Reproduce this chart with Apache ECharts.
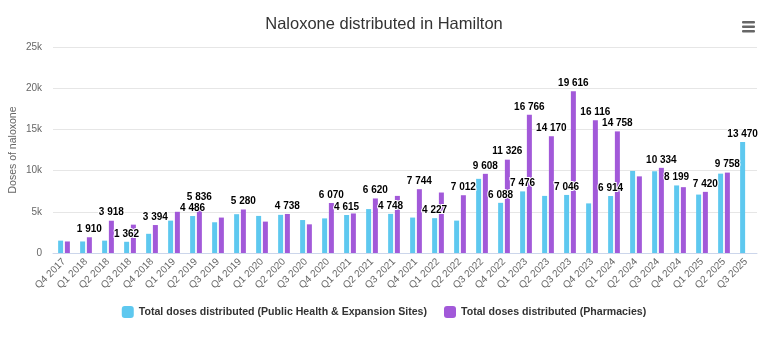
<!DOCTYPE html>
<html>
<head>
<meta charset="utf-8">
<script src="https://cdn.jsdelivr.net/npm/echarts@6/dist/echarts.min.js"></script>
<style>html,body{margin:0;padding:0;background:#fff}#c{width:768px;height:344px}</style>
</head>
<body>
<div id="c"></div>
<script>
var categories = ['Q4 2017','Q1 2018','Q2 2018','Q3 2018','Q4 2018','Q1 2019','Q2 2019','Q3 2019','Q4 2019','Q1 2020','Q2 2020','Q3 2020','Q4 2020','Q1 2021','Q2 2021','Q3 2021','Q4 2021','Q1 2022','Q2 2022','Q3 2022','Q4 2022','Q1 2023','Q2 2023','Q3 2023','Q4 2023','Q1 2024','Q2 2024','Q3 2024','Q4 2024','Q1 2025','Q2 2025','Q3 2025'];
var publicHealth = [1500,1400,1500,1362,2330,3930,4486,3730,4710,4500,4630,4000,4200,4615,5330,4748,4300,4227,3930,9000,6088,7476,6930,7046,6020,6914,9960,9920,8199,7090,9630,13470];
var pharmacies = [1400,1910,3918,3440,3394,5000,5836,4300,5280,3810,4738,3480,6070,4800,6620,6930,7744,7340,7012,9608,11326,16766,14170,19616,16116,14758,9300,10334,7990,7420,9758,null];
// indices whose value label is visible in the reference
var labeledPublicHealth = [3,6,13,15,17,20,21,23,25,28,31];
var labeledPharmacies = [1,2,4,6,8,10,12,14,16,18,19,20,21,22,23,24,25,27,29,30];
var seriesNames = ['Total doses distributed (Public Health & Expansion Sites)','Total doses distributed (Pharmacies)'];
var yTicks = {min:0, max:25000, interval:5000};

var FONT = "'Liberation Sans',Arial,sans-serif";
function fmt(v){ return String(v).replace(/\B(?=(\d{3})+(?!\d))/g,' '); }
function mkLabel(shown){
  return {
    show:true, position:'top', distance:3,
    fontFamily:FONT, fontSize:10, fontWeight:'bold', color:'#000',
    textBorderColor:'#fff', textBorderWidth:2,
    formatter:function(p){ return shown.indexOf(p.dataIndex)>=0 && p.value!=null ? fmt(p.value) : ''; }
  };
}
var chart = echarts.init(document.getElementById('c'));
chart.setOption({
  animation:false,
  color:['#5ec8ef','#a259d9'],
  title:{text:'Naloxone distributed in Hamilton', left:'center', top:11,
    textStyle:{fontFamily:FONT, fontSize:16.5, fontWeight:'normal', color:'#333'}},
  legend:{bottom:21, left:'center', itemWidth:12, itemHeight:12, itemGap:17,
    icon:'roundRect',
    textStyle:{fontFamily:FONT, fontSize:10.6, fontWeight:'bold', color:'#333'}},
  grid:{left:53, right:11, top:47, bottom:91, containLabel:false, outerBoundsMode:'none'},
  xAxis:{type:'category', data:categories,
    axisLine:{lineStyle:{color:'#ccd6eb'}},
    axisTick:{length:8, lineStyle:{color:'#ccd6eb'}},
    axisLabel:{rotate:45, margin:7, interval:0, fontFamily:FONT, fontSize:10, color:'#666'}},
  yAxis:{type:'value', min:yTicks.min, max:yTicks.max, interval:yTicks.interval,
    name:'Doses of naloxone', nameLocation:'middle', nameGap:34, nameRotate:90,
    nameMoveOverlap:false,
    nameTextStyle:{fontFamily:FONT, fontSize:10.5, color:'#666'},
    axisLabel:{margin:11, fontFamily:FONT, fontSize:10, color:'#666',
      formatter:function(v){ return v===0?'0':(v/1000)+'k'; }},
    splitLine:{lineStyle:{color:'#e6e6e6'}}},
  series:[
    {name:seriesNames[0], type:'bar', data:publicHealth, barWidth:5, barGap:'35%', label:mkLabel(labeledPublicHealth)},
    {name:seriesNames[1], type:'bar', data:pharmacies, barWidth:5, barGap:'35%', label:mkLabel(labeledPharmacies)}
  ],
  graphic:[{type:'group', right:13, top:21, children:[
    {type:'rect', shape:{x:0,y:0,width:13,height:2.5,r:1}, style:{fill:'#666'}},
    {type:'rect', shape:{x:0,y:4.5,width:13,height:2.5,r:1}, style:{fill:'#666'}},
    {type:'rect', shape:{x:0,y:9,width:13,height:2.5,r:1}, style:{fill:'#666'}}
  ]}]
});
</script>
</body>
</html>
